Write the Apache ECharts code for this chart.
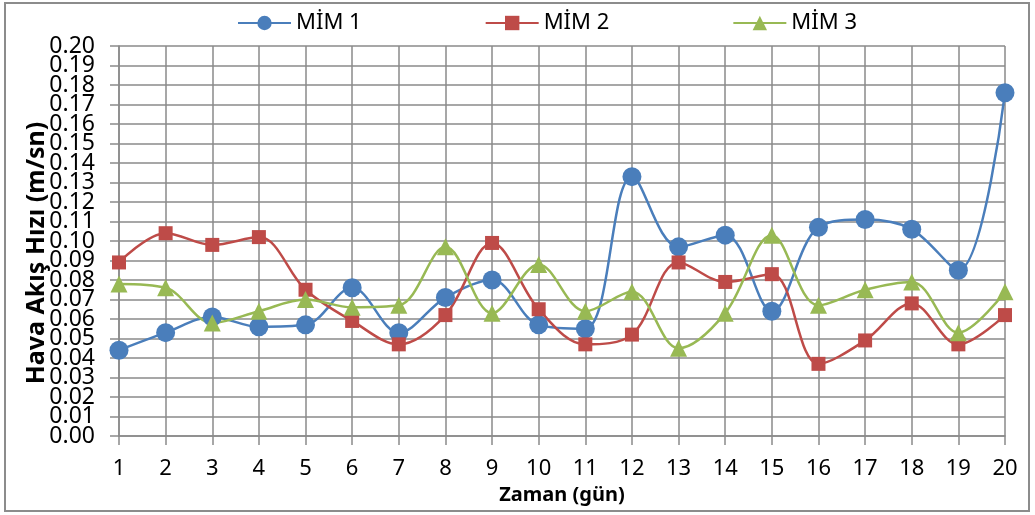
<!DOCTYPE html>
<html><head><meta charset="utf-8">
<script src="https://cdn.jsdelivr.net/npm/echarts@6/dist/echarts.min.js"></script>
<style>html,body{margin:0;padding:0;background:#fff}#c{width:1035px;height:515px}</style>
</head><body><div id="c"></div>
<script>
const days = ['1','2','3','4','5','6','7','8','9','10','11','12','13','14','15','16','17','18','19','20'];
const mim1 = [0.044,0.053,0.061,0.056,0.057,0.076,0.053,0.071,0.080,0.057,0.055,0.133,0.097,0.103,0.064,0.107,0.111,0.106,0.085,0.176];
const mim2 = [0.089,0.104,0.098,0.102,0.075,0.059,0.047,0.062,0.099,0.065,0.047,0.052,0.089,0.079,0.083,0.037,0.049,0.068,0.047,0.062];
const mim3 = [0.078,0.076,0.058,0.064,0.070,0.066,0.067,0.097,0.063,0.088,0.064,0.074,0.045,0.063,0.103,0.067,0.075,0.079,0.053,0.074];
const seriesNames = ['MİM 1','MİM 2','MİM 3'];
const yTicksEven = [0,0.02,0.04,0.06,0.08,0.10,0.12,0.14,0.16,0.18,0.20];
const yTicksOdd = [0.01,0.03,0.05,0.07,0.09,0.11,0.13,0.15,0.17,0.19];

const FONT = 'Noto Sans';
const chart = echarts.init(document.getElementById('c'), null, {renderer:'canvas'});
const gridColor = '#8a8a8a';
function mk(name, data, color, symbol, size){
  return {name, type:'line', data, smooth:0.35, symbol, symbolSize:size,
    lineStyle:{color, width:2.5}, itemStyle:{color, borderWidth:0},
    emphasis:{disabled:true}, z: 3};
}
const yLabel = (vals) => ({fontFamily:FONT, fontSize:23, color:'#000', margin:24,
  customValues: vals, hideOverlap:false, formatter:v=>Number(v).toFixed(2)});
chart.setOption({
  animation:false,
  graphic:[{type:'rect', shape:{x:5,y:3,width:1024,height:508}, style:{fill:'none', stroke:'#8c8c8c', lineWidth:2}, z:-1}],
  legend:{top:7, left:232, itemGap:123, itemWidth:53, itemHeight:18,
    textStyle:{fontFamily:FONT, fontSize:22, color:'#000'}, data:seriesNames},
  grid:{left:119, right:30, top:46, bottom:79, containLabel:false},
  xAxis:{type:'category', data:days, boundaryGap:false,
    name:'Zaman (gün)', nameLocation:'middle', nameGap:44,
    nameTextStyle:{fontFamily:FONT, fontSize:20, fontWeight:'bold', color:'#000'},
    axisLine:{show:true, lineStyle:{color:gridColor, width:1.5}},
    axisTick:{show:true, length:9, alignWithLabel:true, lineStyle:{color:gridColor, width:1.5}},
    axisLabel:{fontFamily:FONT, fontSize:22, color:'#000', margin:22},
    splitLine:{show:true, lineStyle:{color:gridColor, width:1.5}}},
  yAxis:[{type:'value', min:0, max:0.2, interval:0.01, position:'left',
    name:'Hava Akış Hızı (m/sn)', nameLocation:'middle', nameGap:70, nameMoveOverlap:false,
    nameTextStyle:{fontFamily:FONT, fontSize:25, fontWeight:'bold', color:'#000', padding:[0,24,0,0]},
    axisLine:{show:true, lineStyle:{color:gridColor, width:1.5}},
    axisTick:{show:true, length:9, lineStyle:{color:gridColor, width:1.5}},
    axisLabel:yLabel(yTicksEven),
    splitLine:{show:true, lineStyle:{color:gridColor, width:1.5}}},
   {type:'value', min:0, max:0.2, interval:0.01, position:'left', offset:0,
    axisLine:{show:false}, axisTick:{show:false}, splitLine:{show:false},
    axisLabel:yLabel(yTicksOdd)}],
  series:[
    mk(seriesNames[0], mim1, '#4A7EBB', 'circle', 19),
    mk(seriesNames[1], mim2, '#BE4B48', 'rect', 14),
    mk(seriesNames[2], mim3, '#98B954', 'triangle', 17)
  ]
});
</script></body></html>
